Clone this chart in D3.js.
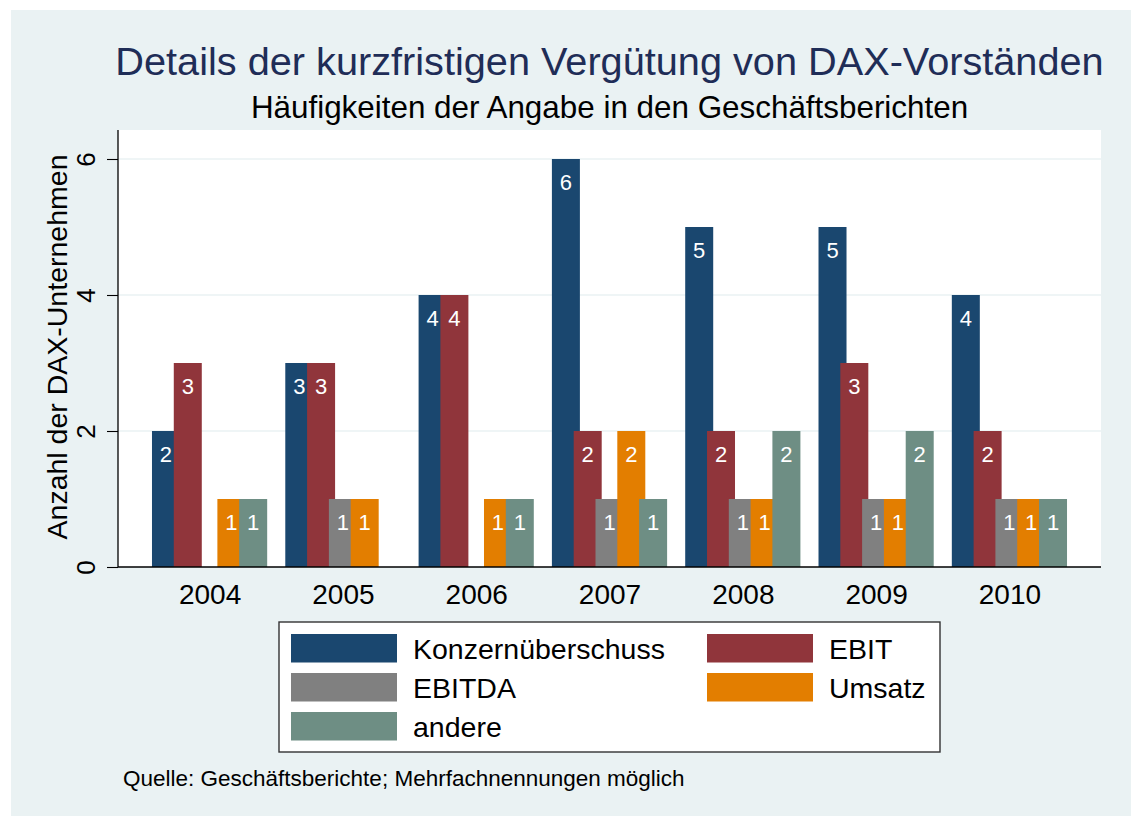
<!DOCTYPE html>
<html>
<head>
<meta charset="utf-8">
<script src="https://cdn.jsdelivr.net/npm/d3@7"></script>
<style>
  html, body { margin: 0; padding: 0; background: #ffffff; }
  svg { display: block; font-family: "Liberation Sans", Arial, Helvetica, sans-serif; }
</style>
</head>
<body>
<svg id="chart" width="1135" height="816"></svg>
<script>
// ---- data ----
const years = ["2004", "2005", "2006", "2007", "2008", "2009", "2010"];
const seriesNames = ["Konzernüberschuss", "EBIT", "EBITDA", "Umsatz", "andere"];
const konzernueberschuss = [2, 3, 4, 6, 5, 5, 4];
const ebit = [3, 3, 4, 2, 2, 3, 2];
const ebitda = [null, 1, null, 1, 1, 1, 1];
const umsatz = [1, 1, 1, 2, 1, 1, 1];
const andere = [1, null, 1, 1, 2, 2, 1];
const yTicks = [0, 2, 4, 6];
const seriesColors = ["#1a476f", "#90353b", "#808080", "#e37e00", "#6e8e84"];
const titleText = "Details der kurzfristigen Vergütung von DAX-Vorständen";
const subtitleText = "Häufigkeiten der Angabe in den Geschäftsberichten";
const yTitleText = "Anzahl der DAX-Unternehmen";
const noteText = "Quelle: Geschäftsberichte; Mehrfachnennungen möglich";

const seriesValues = [konzernueberschuss, ebit, ebitda, umsatz, andere];

// ---- layout ----
const plot = { left: 118, right: 1101, top: 130, bottom: 567 };
const bg = "#eaf2f3";

const svg = d3.select("#chart");

svg.append("rect").attr("x", 11).attr("y", 10).attr("width", 1120).attr("height", 806).attr("fill", bg);
svg.append("rect").attr("x", plot.left).attr("y", plot.top)
  .attr("width", plot.right - plot.left).attr("height", plot.bottom - plot.top).attr("fill", "#ffffff");

const x0 = d3.scalePoint().domain(years).range([plot.left, plot.right]).padding(0.687);
const x1 = d3.scalePoint().domain(seriesNames).range([-43.6, 43.6]);
const barW = 28;
const y = d3.scaleLinear().domain([0, 6]).range([plot.bottom, 159]);

// gridlines
svg.append("g").selectAll("line").data(yTicks.filter(t => t > 0)).join("line")
  .attr("x1", plot.left).attr("x2", plot.right)
  .attr("y1", d => y(d)).attr("y2", d => y(d))
  .attr("stroke", bg).attr("stroke-width", 1.6);

// bars
const bars = [];
seriesNames.forEach((s, si) => {
  years.forEach((yr, yi) => {
    const v = seriesValues[si][yi];
    if (v !== null && v !== undefined) bars.push({ series: s, si, year: yr, value: v });
  });
});

svg.append("g").selectAll("rect").data(bars).join("rect")
  .attr("x", d => x0(d.year) + x1(d.series) - barW / 2)
  .attr("y", d => y(d.value))
  .attr("width", barW)
  .attr("height", d => y(0) - y(d.value))
  .attr("fill", d => seriesColors[d.si]);

svg.append("g").selectAll("text").data(bars).join("text")
  .attr("x", d => x0(d.year) + x1(d.series))
  .attr("y", d => y(d.value) + 31)
  .attr("text-anchor", "middle")
  .attr("font-size", 22)
  .attr("fill", "#ffffff")
  .text(d => d.value);

// y axis
const yAxis = svg.append("g").attr("transform", `translate(${plot.left},0)`)
  .call(d3.axisLeft(y).tickValues(yTicks).tickSize(11).tickFormat(d3.format("d")));
yAxis.select(".domain").attr("d", `M0,${plot.top}V${plot.bottom}`).attr("stroke", "#000").attr("stroke-width", 1.3);
yAxis.selectAll(".tick line").attr("stroke", "#000").attr("stroke-width", 1.1);
yAxis.selectAll(".tick text")
  .attr("transform", "rotate(-90)")
  .attr("x", 0).attr("y", -23).attr("dy", 0)
  .attr("text-anchor", "middle")
  .attr("font-size", 26)
  .attr("font-family", "Liberation Sans, Arial, sans-serif")
  .attr("fill", "#000");

// x axis
const xAxis = svg.append("g").attr("transform", `translate(0,${plot.bottom})`)
  .call(d3.axisBottom(x0).tickSize(0));
xAxis.select(".domain").attr("d", `M${plot.left},0H${plot.right}`).attr("stroke", "#000").attr("stroke-width", 1.3);
xAxis.selectAll(".tick text")
  .attr("y", 37).attr("dy", 0)
  .attr("font-size", 28)
  .attr("font-family", "Liberation Sans, Arial, sans-serif")
  .attr("fill", "#000");

// y title
svg.append("text")
  .attr("transform", "translate(67,347) rotate(-90)")
  .attr("text-anchor", "middle")
  .attr("font-size", 28.5)
  .attr("fill", "#000")
  .text(yTitleText);

// titles
const cx = (plot.left + plot.right) / 2;
svg.append("text").attr("x", cx).attr("y", 75).attr("text-anchor", "middle")
  .attr("font-size", 39.7).attr("fill", "#1f2d57").text(titleText);
svg.append("text").attr("x", cx).attr("y", 118).attr("text-anchor", "middle")
  .attr("font-size", 31.4).attr("fill", "#000").text(subtitleText);

// legend
const leg = svg.append("g");
leg.append("rect").attr("x", 279).attr("y", 622).attr("width", 661).attr("height", 130)
  .attr("fill", "#fff").attr("stroke", "#333").attr("stroke-width", 1.4);
const colX = [291, 707];
const rowY = [634, 673, 712];
const items = leg.selectAll("g.item").data(seriesNames).join("g").attr("class", "item")
  .attr("transform", (d, i) => `translate(${colX[i % 2]},${rowY[Math.floor(i / 2)]})`);
items.append("rect").attr("width", 106).attr("height", 28.5)
  .attr("fill", (d, i) => seriesColors[i]);
items.append("text").attr("x", 122).attr("y", 25).attr("font-size", 28.5).attr("fill", "#000").text(d => d);

// note
svg.append("text").attr("x", 123).attr("y", 786).attr("font-size", 22.5).attr("fill", "#000").text(noteText);
</script>
</body>
</html>
